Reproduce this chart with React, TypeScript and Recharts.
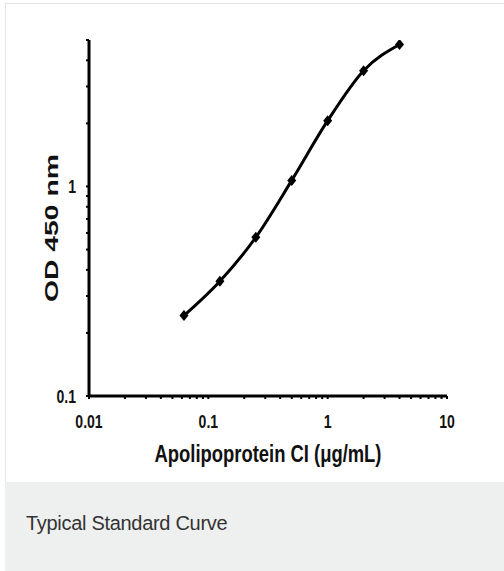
import React from 'react';
import { LineChart, Line, XAxis, YAxis } from 'recharts';

// Standard curve readings
const concentrations = [0.0625, 0.125, 0.25, 0.5, 1, 2, 4];
const odValues = [0.242, 0.353, 0.572, 1.069, 2.06, 3.57, 4.76];

const xMajorTicks = [0.01, 0.1, 1, 10];
const xMinorTicks = [
  0.02, 0.03, 0.04, 0.05, 0.06, 0.07, 0.08, 0.09,
  0.2, 0.3, 0.4, 0.5, 0.6, 0.7, 0.8, 0.9,
  2, 3, 4, 5, 6, 7, 8, 9,
];
const yMajorTicks = [0.1, 1];
const yMinorTicks = [0.2, 0.3, 0.4, 0.5, 0.6, 0.7, 0.8, 0.9, 2, 3, 4, 5];

const xTitle = 'Apolipoprotein CI (μg/mL)';
const yTitle = 'OD 450 nm';
const caption = 'Typical Standard Curve';

const data = concentrations.map((c, i) => ({ conc: c, od: odValues[i] }));

const sans = '"Liberation Sans", Arial, sans-serif';

const Diamond = (props: any) => {
  const { cx, cy } = props;
  if (cx == null || cy == null) return null;
  return <path d={`M${cx},${cy - 5.5}L${cx + 4.5},${cy}L${cx},${cy + 5.5}L${cx - 4.5},${cy}Z`} fill="#000" />;
};

// narrow-looking tick text (no Arial Narrow available, so squeeze it)
const NarrowTick = (props: any) => {
  const { x, y, payload, majors, side } = props;
  const v = payload?.value;
  if (!majors.includes(v)) return null;
  const anchor = side === 'left' ? 'end' : 'middle';
  const dy = side === 'left' ? 6.5 : 12;
  return (
    <g transform={`translate(${x},${y})`}>
      <text
        transform="scale(0.78,1)"
        textAnchor={anchor}
        dy={dy}
        fontFamily={sans}
        fontWeight="bold"
        fontSize={18}
        fill="#111"
      >
        {String(v)}
      </text>
    </g>
  );
};

export default function App() {
  return (
    <div style={{ position: 'absolute', left: 0, top: 0, width: 504, height: 571, overflow: 'hidden', background: '#fff' }}>
      <div
        style={{
          position: 'absolute',
          left: 5,
          top: 3,
          width: 520,
          height: 478,
          border: '1px solid #e3e3e3',
          borderRight: 'none',
          background: '#fff',
        }}
      />
      <div
        style={{
          position: 'absolute',
          left: 5,
          top: 482,
          width: 520,
          height: 100,
          background: '#eef0ef',
        }}
      >
        <div
          style={{
            position: 'absolute',
            left: 21,
            top: 30,
            fontFamily: sans,
            fontSize: 20,
            letterSpacing: -0.3,
            color: '#333',
            whiteSpace: 'nowrap',
          }}
        >
          {caption}
        </div>
      </div>
      <div style={{ position: 'absolute', left: 0, top: 0 }}>
        <LineChart width={504} height={480} data={data} margin={{ top: 40, right: 57, left: 0, bottom: 9 }}>
          <XAxis
            dataKey="conc"
            type="number"
            scale="log"
            domain={[0.01, 10]}
            allowDataOverflow
            ticks={[...xMajorTicks, ...xMinorTicks]}
            interval={0}
            axisLine={{ stroke: '#000', strokeWidth: 3 }}
            tickLine={{ stroke: '#000', strokeWidth: 2 }}
            tickSize={3}
            tickMargin={17}
            tick={<NarrowTick majors={xMajorTicks} side="bottom" />}
            height={75}
            label={{
              content: () => (
                <text
                  x={268}
                  y={462}
                  textAnchor="middle"
                  textLength={227}
                  lengthAdjust="spacingAndGlyphs"
                  fontFamily={sans}
                  fontWeight="bold"
                  fontSize={23}
                  fill="#111"
                >
                  {xTitle}
                </text>
              ),
            }}
          />
          <YAxis
            dataKey="od"
            type="number"
            scale="log"
            domain={[0.1, 5]}
            allowDataOverflow
            ticks={[...yMajorTicks, ...yMinorTicks]}
            interval={0}
            axisLine={{ stroke: '#000', strokeWidth: 3 }}
            tickLine={{ stroke: '#000', strokeWidth: 2 }}
            tickSize={3}
            tickMargin={10}
            tick={<NarrowTick majors={yMajorTicks} side="left" />}
            width={89}
            label={{
              content: () => (
                <text
                  x={58}
                  y={228}
                  transform="rotate(-90 58 228)"
                  textAnchor="middle"
                  textLength={148}
                  lengthAdjust="spacingAndGlyphs"
                  fontFamily={sans}
                  fontWeight="bold"
                  fontSize={19}
                  fill="#111"
                >
                  {yTitle}
                </text>
              ),
            }}
          />
          <Line
            type="monotone"
            dataKey="od"
            stroke="#000"
            strokeWidth={3}
            dot={<Diamond />}
            activeDot={false}
            isAnimationActive={false}
          />
        </LineChart>
      </div>
    </div>
  );
}
